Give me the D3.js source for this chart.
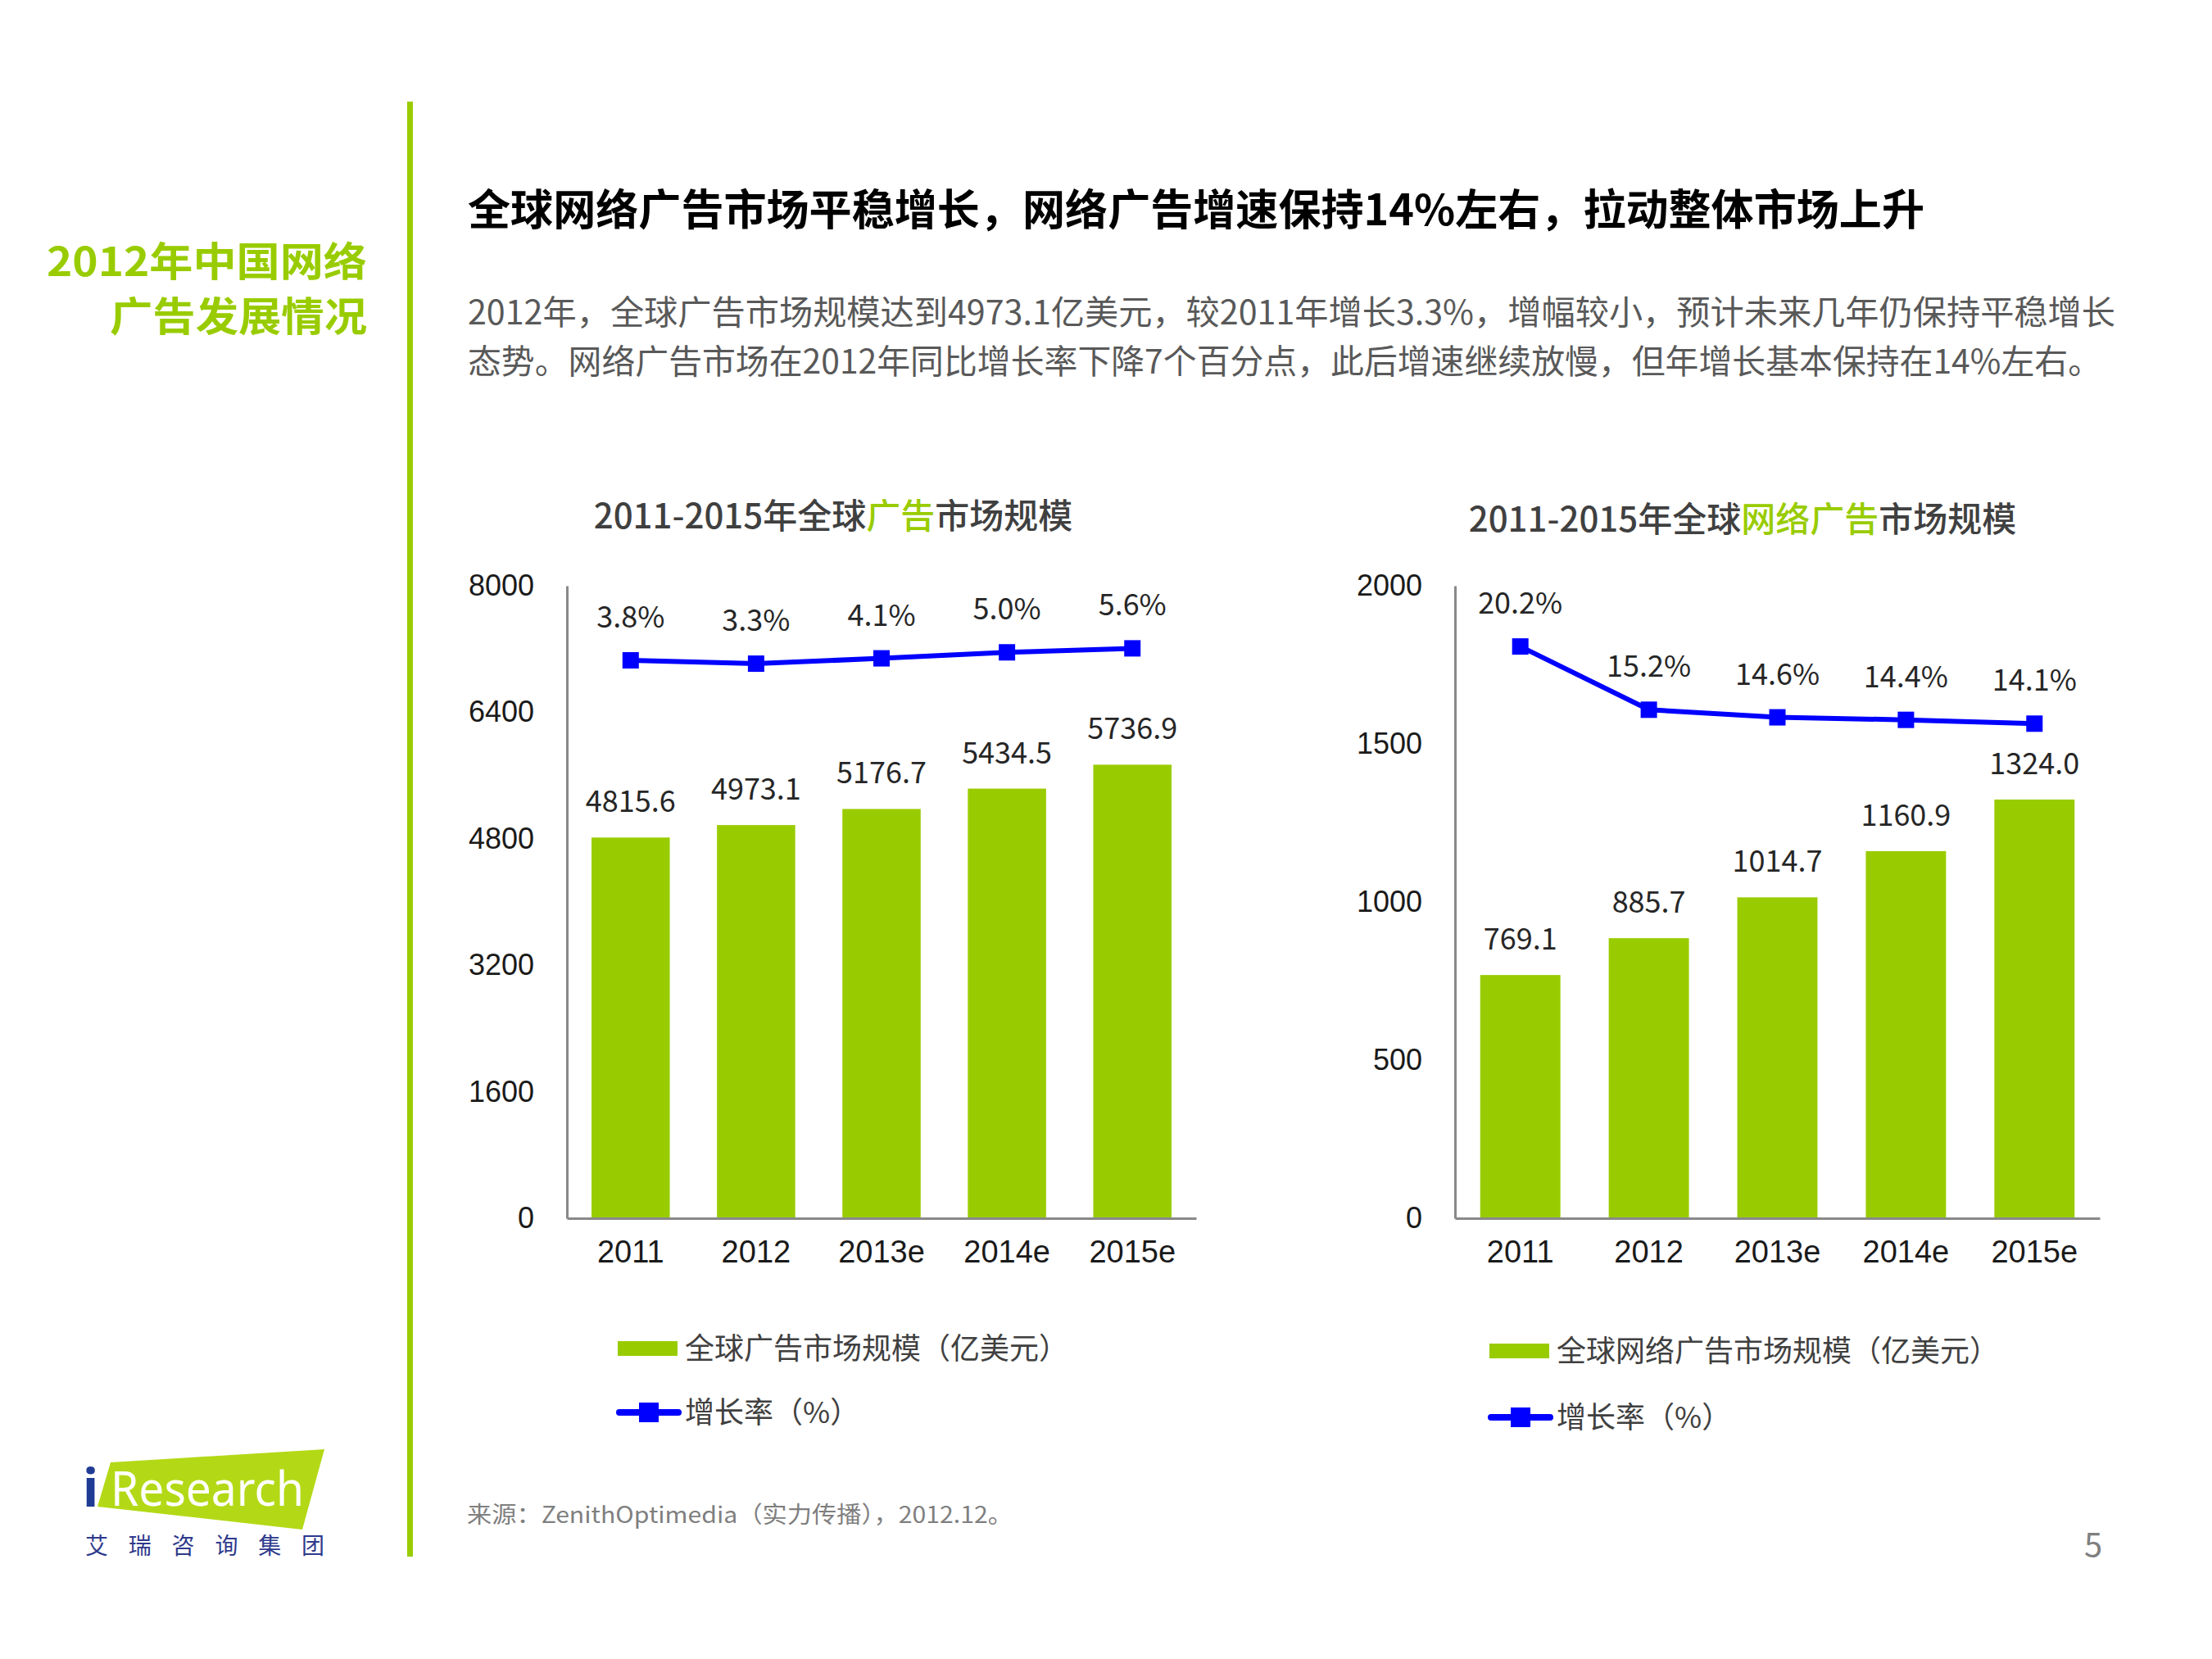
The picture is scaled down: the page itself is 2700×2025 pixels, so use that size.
<!DOCTYPE html>
<html><head><meta charset="utf-8">
<script src="https://cdn.jsdelivr.net/npm/d3@7"></script>
<style>
html,body{margin:0;padding:0;background:#fff;}
svg{display:block;font-family:"Noto Sans CJK SC","Noto Sans",sans-serif;}
</style></head>
<body>
<svg id="c" width="2700" height="2025"></svg>
<script>
// ---------- data ----------
const years = ["2011", "2012", "2013e", "2014e", "2015e"];
const adMarket = [4815.6, 4973.1, 5176.7, 5434.5, 5736.9];
const adGrowth = [3.8, 3.3, 4.1, 5.0, 5.6];
const onlineMarket = [769.1, 885.7, 1014.7, 1160.9, 1324.0];
const onlineGrowth = [20.2, 15.2, 14.6, 14.4, 14.1];
const adTicks = [0, 1600, 3200, 4800, 6400, 8000];
const onlineTicks = [0, 500, 1000, 1500, 2000];
const adLegend = ["全球广告市场规模（亿美元）", "增长率（%）"];
const onlineLegend = ["全球网络广告市场规模（亿美元）", "增长率（%）"];

const GREEN = "#99cc00", BLUE = "#0000ff", AXIS = "#898989";
const svg = d3.select("#c");

// ---------- page frame ----------
svg.append("rect").attr("x", 497).attr("y", 124).attr("width", 7).attr("height", 1776).attr("fill", GREEN);

svg.append("text").attr("text-anchor", "start").attr("fill", GREEN)
  .attr("font-size", 49).attr("font-weight", 700)
  .attr("x", 57).attr("y", 319).attr("dy", "0.36em")
  .attr("textLength", 391).attr("lengthAdjust", "spacingAndGlyphs").text("2012年中国网络");
svg.append("text").attr("text-anchor", "start").attr("fill", GREEN)
  .attr("font-size", 49).attr("font-weight", 700)
  .attr("x", 134).attr("y", 386).attr("dy", "0.36em")
  .attr("textLength", 314).attr("lengthAdjust", "spacingAndGlyphs").text("广告发展情况");

svg.append("text").attr("x", 571).attr("y", 256).attr("dy", "0.36em")
  .attr("font-size", 52).attr("font-weight", 700).attr("fill", "#000")
  .attr("textLength", 1778).attr("lengthAdjust", "spacingAndGlyphs")
  .text("全球网络广告市场平稳增长，网络广告增速保持14%左右，拉动整体市场上升");

svg.append("text").attr("x", 571).attr("y", 381).attr("dy", "0.36em")
  .attr("font-size", 41).attr("fill", "#595959")
  .attr("textLength", 2011).attr("lengthAdjust", "spacingAndGlyphs")
  .text("2012年，全球广告市场规模达到4973.1亿美元，较2011年增长3.3%，增幅较小，预计未来几年仍保持平稳增长");
svg.append("text").attr("x", 571).attr("y", 441).attr("dy", "0.36em")
  .attr("font-size", 41).attr("fill", "#595959")
  .attr("textLength", 1994).attr("lengthAdjust", "spacingAndGlyphs")
  .text("态势。网络广告市场在2012年同比增长率下降7个百分点，此后增速继续放慢，但年增长基本保持在14%左右。");

// ---------- charts ----------
function drawChart(cfg) {
  const g = svg.append("g");
  const x = d3.scaleBand().domain(years).range([cfg.x0, cfg.x1]).paddingInner(0.376).paddingOuter(0.196);
  const y = d3.scaleLinear().domain([0, cfg.ticks[cfg.ticks.length - 1]]).range([cfg.yBase, cfg.yTop]);
  const y2 = d3.scaleLinear().domain(cfg.gDomain).range([cfg.yBase, cfg.yTop]);

  // title
  const t = g.append("text").attr("x", cfg.titleX).attr("y", cfg.titleY).attr("dy", "0.36em")
    .attr("text-anchor", "middle").attr("font-size", 42).attr("font-weight", 500).attr("fill", "#404040");
  cfg.title.forEach(p => t.append("tspan").attr("fill", p[1] ? GREEN : "#404040").text(p[0]));

  // bars
  g.selectAll("rect.bar").data(cfg.values).join("rect").attr("class", "bar")
    .attr("x", (d, i) => x(years[i])).attr("width", x.bandwidth())
    .attr("y", d => y(d)).attr("height", d => y(0) - y(d)).attr("fill", GREEN);

  // axes
  const ya = g.append("g").attr("transform", `translate(${cfg.x0},0)`)
    .call(d3.axisLeft(y).tickValues(cfg.ticks).tickSize(0).tickPadding(40).tickFormat(d3.format("d")));
  ya.select(".domain").attr("stroke", AXIS).attr("stroke-width", 3);
  ya.selectAll("text").attr("font-size", 36).attr("fill", "#1a1a1a").attr("font-family", null);

  const xa = g.append("g").attr("transform", `translate(0,${cfg.yBase})`)
    .call(d3.axisBottom(x).tickSize(0).tickPadding(0));
  xa.select(".domain").attr("stroke", AXIS).attr("stroke-width", 3);
  xa.selectAll("text").attr("font-size", 38).attr("fill", "#1a1a1a").attr("font-family", null)
    .attr("y", 40).attr("dy", "0.36em");

  // value labels
  g.selectAll("text.val").data(cfg.values).join("text").attr("class", "val")
    .attr("x", (d, i) => x(years[i]) + x.bandwidth() / 2).attr("y", d => y(d) - 44).attr("dy", "0.36em")
    .attr("text-anchor", "middle").attr("font-size", 36).attr("fill", "#262626")
    .text(d => d.toFixed(1));

  // growth line
  const cx = (d, i) => x(years[i]) + x.bandwidth() / 2;
  g.append("path").datum(cfg.growth)
    .attr("d", d3.line().x(cx).y(d => y2(d)))
    .attr("fill", "none").attr("stroke", BLUE).attr("stroke-width", 6);
  g.selectAll("rect.mk").data(cfg.growth).join("rect").attr("class", "mk")
    .attr("x", (d, i) => cx(d, i) - 10).attr("y", d => y2(d) - 10)
    .attr("width", 20).attr("height", 20).attr("fill", BLUE);
  g.selectAll("text.pct").data(cfg.growth).join("text").attr("class", "pct")
    .attr("x", cx).attr("y", d => y2(d) - 53).attr("dy", "0.36em")
    .attr("text-anchor", "middle").attr("font-size", 36).attr("fill", "#262626")
    .text(d => d.toFixed(1) + "%");

  // legend
  const L = cfg.legend;
  g.append("rect").attr("x", L.x).attr("y", L.y1 - 9).attr("width", 73).attr("height", 18).attr("fill", GREEN);
  g.append("text").attr("x", L.x + 82).attr("y", L.y1).attr("dy", "0.36em")
    .attr("font-size", 36).attr("fill", "#404040").text(cfg.legendText[0]);
  g.append("line").attr("x1", L.x + 2).attr("x2", L.x + 74).attr("y1", L.y2).attr("y2", L.y2)
    .attr("stroke", BLUE).attr("stroke-width", 8).attr("stroke-linecap", "round");
  g.append("rect").attr("x", L.x + 26).attr("y", L.y2 - 12).attr("width", 24).attr("height", 24).attr("fill", BLUE);
  g.append("text").attr("x", L.x + 82).attr("y", L.y2).attr("dy", "0.36em")
    .attr("font-size", 36).attr("fill", "#404040").text(cfg.legendText[1]);
}

drawChart({
  x0: 692, x1: 1460, yBase: 1487, yTop: 715, ticks: adTicks, values: adMarket, growth: adGrowth,
  gDomain: [-80, 15], titleX: 1017, titleY: 630,
  title: [["2011-2015年全球", false], ["广告", true], ["市场规模", false]],
  legend: { x: 754, y1: 1646, y2: 1724 }, legendText: adLegend
});
drawChart({
  x0: 1776, x1: 2563, yBase: 1487, yTop: 715, ticks: onlineTicks, values: onlineMarket, growth: onlineGrowth,
  gDomain: [-25, 25], titleX: 2127, titleY: 634,
  title: [["2011-2015年全球", false], ["网络广告", true], ["市场规模", false]],
  legend: { x: 1818, y1: 1649, y2: 1730 }, legendText: onlineLegend
});

// ---------- footer ----------
svg.append("text").attr("x", 570).attr("y", 1849).attr("dy", "0.36em")
  .attr("font-size", 28).attr("fill", "#7f7f7f")
  .attr("textLength", 666).attr("lengthAdjust", "spacingAndGlyphs")
  .text("来源：ZenithOptimedia（实力传播），2012.12。");
svg.append("text").attr("x", 2555).attr("y", 1886).attr("dy", "0.36em").attr("text-anchor", "middle")
  .attr("font-size", 40).attr("fill", "#7f7f7f").text("5");

// logo
svg.append("path").attr("d", "M135,1785 L396,1769 L369,1867 L119,1839 Z").attr("fill", "#b3d916");
svg.append("text").attr("x", 101).attr("y", 1839).attr("font-size", 64).attr("font-weight", 700)
  .attr("font-family", "Noto Sans").attr("fill", "#1f3b94").text("i");
svg.append("text").attr("x", 135).attr("y", 1838).attr("font-size", 58)
  .attr("font-family", "Noto Sans").attr("fill", "#fff")
  .attr("textLength", 236).attr("lengthAdjust", "spacingAndGlyphs").text("Research");
svg.append("text").attr("x", 104).attr("y", 1887).attr("dy", "0.36em").attr("font-size", 28)
  .attr("fill", "#2e3a8c").attr("textLength", 292).attr("lengthAdjust", "spacing").text("艾瑞咨询集团");
</script>
</body></html>
